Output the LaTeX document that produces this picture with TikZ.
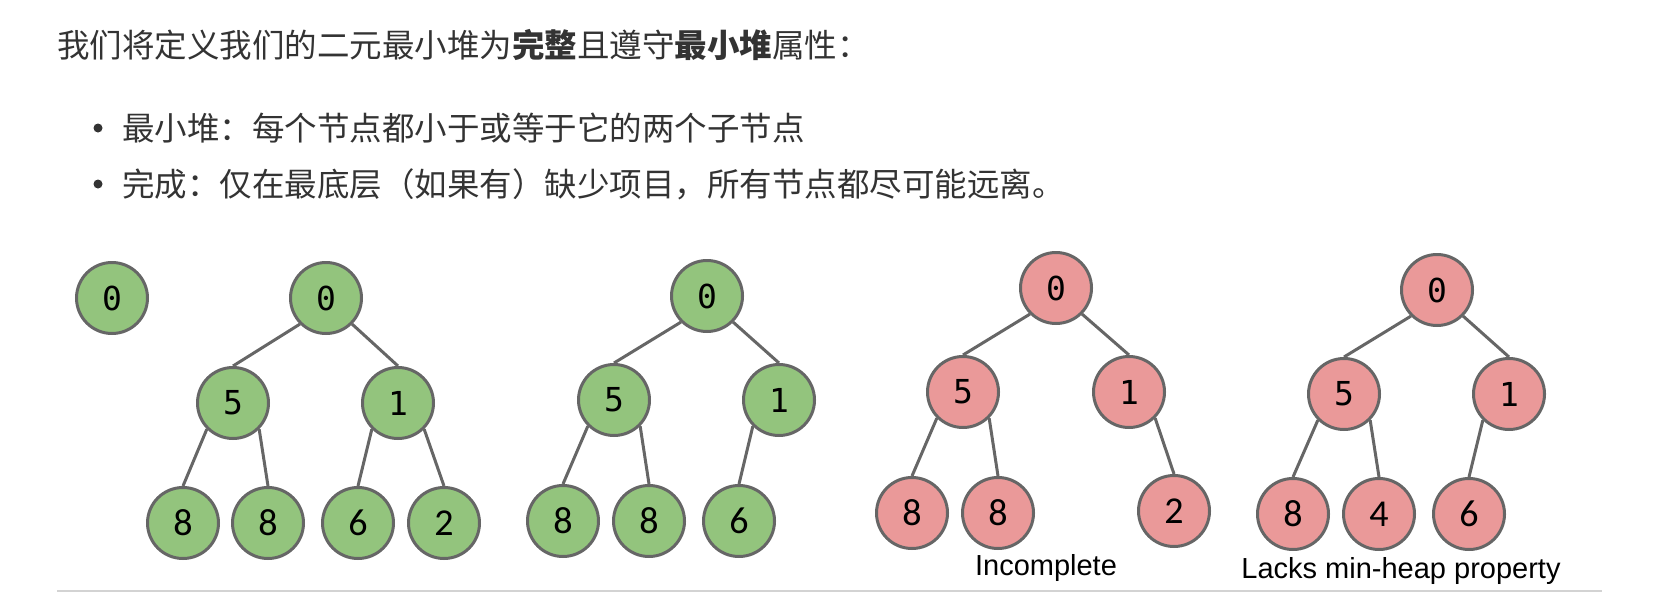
\documentclass[tikz,border=0pt]{standalone}
\usepackage{fontspec}
\setmainfont{Liberation Sans}
\newfontfamily\cjk{Noto Sans CJK SC}
\newfontfamily\digmono{DejaVu Sans Mono}
\newfontfamily\digleaf{Carlito}
\usetikzlibrary{positioning}
\definecolor{heapgreen}{HTML}{93C47D}
\definecolor{heapred}{HTML}{EA9999}
\definecolor{rimgray}{HTML}{666666}
\definecolor{txtgray}{HTML}{333333}
\definecolor{rulegray}{HTML}{D3D3D3}

\begin{document}
\begin{tikzpicture}[x=1pt, y=-1pt,
    hnode/.style={circle, draw=rimgray, line width=3pt, minimum size=71pt, inner sep=0pt,
        font=\digmono\fontsize{33}{33}\selectfont},
    ok/.style={hnode, fill=heapgreen},
    bad/.style={hnode, fill=heapred},
    leaf/.style={font=\digleaf\fontsize{38}{38}\selectfont},
    edge/.style={draw=rimgray, line width=3pt},
    line/.style={anchor=west, text=txtgray, inner sep=0pt, font=\cjk\fontsize{32.5}{32.5}\selectfont},
    lbl/.style={font=\fontsize{29}{29}\selectfont},
    ]
\useasboundingbox (0,0) rectangle (1669,610);

\node[line] (intro) at (57,45) {我们将定义我们的二元最小堆为\textbf{完整}且遵守\textbf{最小堆}属性：};
\fill[txtgray] (98,128) circle (4.5pt);
\node[line] (item1) at (122,128) {最小堆：每个节点都小于或等于它的两个子节点};
\fill[txtgray] (98,184) circle (4.5pt);
\node[line] (item2) at (122,184) {完成：仅在最底层（如果有）缺少项目，所有节点都尽可能远离。};

\node[ok] (lone) at (112,298) {0};

% complete heaps
\foreach \nm/\x/\y/\val in {a0/326/298/0, a5/233/403/5, a1/398/403/1,
    b0/707/296/0, b5/614/400/5, b1/779/400/1}
    \node[ok] (\nm) at (\x,\y) {\val};
\foreach \nm/\x/\y/\val in {a8/183/523/8, a88/268/523/8, a6/358/523/6, a2/444/523/2,
    b8/563/521/8, b88/649/521/8, b6/739/521/6}
    \node[ok, leaf] (\nm) at (\x,\y) {\val};

% broken heaps
\foreach \nm/\x/\y/\val in {c0/1056/288/0, c5/963/392/5, c1/1129/392/1,
    d0/1437/290/0, d5/1344/394/5, d1/1509/394/1}
    \node[bad] (\nm) at (\x,\y) {\val};
\foreach \nm/\x/\y/\val in {c8/912/513/8, c88/998/513/8, c2/1174/511/2,
    d8/1293/514/8, d4/1379/514/4, d6/1469/514/6}
    \node[bad, leaf] (\nm) at (\x,\y) {\val};

% left children leave at south west, right children at south east
\foreach \a/\b in {a0/a5, a5/a8, a1/a6, b0/b5, b5/b8, b1/b6, c0/c5, c5/c8, d0/d5, d5/d8, d1/d6}
    \draw[edge] (\a.south west) -- (\b.north);
\foreach \a/\b in {a0/a1, a5/a88, a1/a2, b0/b1, b5/b88, c0/c1, c5/c88, c1/c2, d0/d1, d5/d4}
    \draw[edge] (\a.south east) -- (\b.north);

\node[lbl] (incomplete) at (1046,568) {Incomplete};
\node[lbl] (lacks) at (1401,571) {Lacks min-heap property};

\draw[rulegray, line width=1.5pt] (57,591) -- (1602,591);
\end{tikzpicture}
\end{document}
